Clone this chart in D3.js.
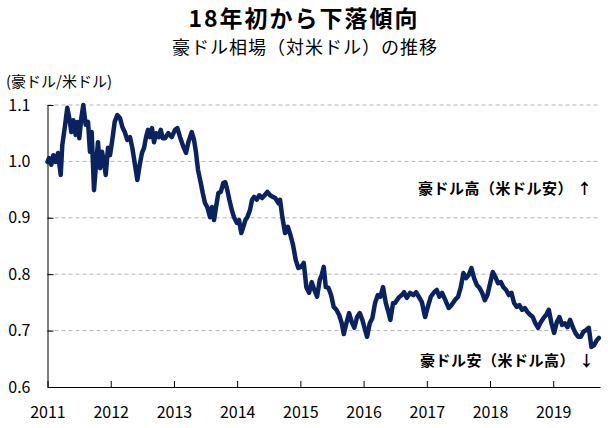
<!DOCTYPE html>
<html><head><meta charset="utf-8">
<script src="https://cdn.jsdelivr.net/npm/d3@7"></script>
<style>
html,body{margin:0;padding:0;background:#fff;}
text{font-family:"Noto Sans CJK JP","Noto Sans",sans-serif;fill:#000;}
</style></head>
<body><svg id="c" width="608" height="428"></svg>
<script>
const title = "18年初から下落傾向";
const subtitle = "豪ドル相場（対米ドル）の推移";
const yAxisLabel = "(豪ドル/米ドル)";
const noteUp = "豪ドル高（米ドル安）";
const noteDown = "豪ドル安（米ドル高）";
const yTicks = [0.6, 0.7, 0.8, 0.9, 1.0, 1.1];
const xTicks = [2011, 2012, 2013, 2014, 2015, 2016, 2017, 2018, 2019];
const xDomain = [2011, 2019.74];
// time in decimal years
const years = [
2011.000,2011.024,2011.060,2011.092,2011.130,2011.166,2011.209,2011.234,2011.272,2011.313,
2011.345,2011.377,2011.408,2011.446,2011.472,2011.503,2011.535,2011.566,2011.604,2011.641,
2011.672,2011.699,2011.736,2011.767,2011.799,2011.831,2011.862,2011.894,2011.921,2011.957,
2011.989,2012.025,2012.063,2012.104,2012.147,2012.184,2012.222,2012.263,2012.305,2012.342,
2012.380,2012.421,2012.459,2012.495,2012.527,2012.559,2012.590,2012.622,2012.653,2012.685,
2012.717,2012.759,2012.791,2012.823,2012.859,2012.911,2012.965,2013.017,2013.054,2013.097,
2013.149,2013.191,2013.228,2013.282,2013.318,2013.350,2013.381,2013.424,2013.456,2013.492,
2013.528,2013.571,2013.603,2013.634,2013.666,2013.703,2013.741,2013.782,2013.813,2013.845,
2013.877,2013.915,2013.951,2013.994,2014.030,2014.066,2014.098,2014.130,2014.161,2014.204,
2014.236,2014.267,2014.310,2014.351,2014.394,2014.437,2014.478,2014.521,2014.563,2014.604,
2014.652,2014.679,2014.715,2014.758,2014.801,2014.842,2014.884,2014.927,2014.968,2015.011,
2015.054,2015.095,2015.138,2015.180,2015.222,2015.264,2015.307,2015.339,2015.370,2015.402,
2015.443,2015.486,2015.528,2015.570,2015.612,2015.655,2015.687,2015.728,2015.771,2015.813,
2015.854,2015.897,2015.940,2015.981,2016.024,2016.055,2016.098,2016.139,2016.182,2016.225,
2016.266,2016.308,2016.351,2016.392,2016.424,2016.467,2016.498,2016.551,2016.604,2016.641,
2016.684,2016.736,2016.788,2016.831,2016.873,2016.921,2016.973,2017.016,2017.063,2017.116,
2017.158,2017.199,2017.242,2017.294,2017.348,2017.389,2017.443,2017.495,2017.538,2017.579,
2017.622,2017.665,2017.706,2017.748,2017.791,2017.832,2017.875,2017.918,2017.959,2018.002,
2018.044,2018.085,2018.128,2018.171,2018.212,2018.255,2018.297,2018.339,2018.381,2018.424,
2018.465,2018.508,2018.551,2018.592,2018.634,2018.677,2018.718,2018.761,2018.804,2018.845,
2018.888,2018.930,2018.972,2019.014,2019.057,2019.098,2019.141,2019.184,2019.225,2019.267,
2019.310,2019.351,2019.394,2019.437,2019.478,2019.521,2019.563,2019.604,2019.646,2019.690,
2019.722
];
// AUD/USD
const rates = [
0.999,1.006,0.994,1.011,0.999,1.015,0.976,1.029,1.059,1.095,
1.077,1.052,1.073,1.047,1.070,1.041,1.077,1.100,1.065,1.070,
1.017,1.052,0.949,0.994,1.034,0.988,1.017,0.999,0.976,1.024,
1.011,1.038,1.070,1.082,1.077,1.061,1.052,1.038,1.043,1.024,
0.997,0.967,0.994,1.015,1.024,1.043,1.056,1.043,1.059,1.034,
1.050,1.043,1.056,1.041,1.041,1.050,1.043,1.056,1.059,1.043,
1.026,1.015,1.034,1.052,1.038,1.015,0.985,0.962,0.944,0.926,
0.919,0.901,0.919,0.896,0.919,0.944,0.946,0.962,0.963,0.949,
0.932,0.914,0.901,0.891,0.896,0.873,0.884,0.896,0.901,0.914,
0.932,0.937,0.932,0.940,0.935,0.940,0.946,0.940,0.937,0.935,
0.926,0.932,0.901,0.873,0.884,0.870,0.852,0.825,0.811,0.813,
0.820,0.777,0.767,0.786,0.772,0.760,0.790,0.799,0.813,0.777,
0.776,0.763,0.742,0.737,0.728,0.713,0.694,0.713,0.731,0.715,
0.705,0.724,0.731,0.719,0.701,0.689,0.713,0.722,0.749,0.763,
0.760,0.777,0.749,0.733,0.719,0.749,0.749,0.758,0.763,0.768,
0.758,0.767,0.763,0.768,0.760,0.751,0.724,0.742,0.760,0.768,
0.772,0.760,0.767,0.754,0.740,0.745,0.754,0.760,0.777,0.802,
0.793,0.799,0.811,0.793,0.781,0.776,0.767,0.754,0.763,0.784,
0.804,0.795,0.784,0.786,0.777,0.772,0.763,0.767,0.749,0.742,
0.745,0.737,0.740,0.733,0.728,0.724,0.713,0.705,0.715,0.722,
0.728,0.737,0.713,0.696,0.715,0.724,0.710,0.713,0.706,0.719,
0.706,0.696,0.689,0.689,0.698,0.701,0.705,0.671,0.674,0.683,
0.687
];

const svg = d3.select("#c");
const m = {left:47.5, right:600, top:105, bottom:387};
const x = d3.scaleLinear().domain(xDomain).range([m.left, m.right]);
const y = d3.scaleLinear().domain([0.6, 1.1]).range([m.bottom, m.top]);

// title
svg.append("text").attr("x", 304).attr("y", 27).attr("text-anchor","middle")
  .attr("font-size", 23).attr("font-weight","bold").attr("letter-spacing", 2)
  .text(title);
svg.append("text").attr("x", 305).attr("y", 54).attr("text-anchor","middle")
  .attr("font-size", 18).attr("letter-spacing", 1)
  .text(subtitle);
svg.append("text").attr("x", 6).attr("y", 87).attr("font-size", 15).text(yAxisLabel);

// gridlines
svg.append("g").selectAll("line").data(yTicks.filter(d => d > 0.6)).join("line")
  .attr("x1", m.left).attr("x2", m.right)
  .attr("y1", d => y(d)).attr("y2", d => y(d))
  .attr("stroke", "#b4b4b4").attr("stroke-width", 1).attr("stroke-dasharray", "4,3");

// y axis
const yAx = svg.append("g").attr("transform", `translate(${m.left},0)`)
  .call(d3.axisLeft(y).tickValues(yTicks).tickFormat(d3.format(".1f")).tickSizeInner(-6).tickSizeOuter(0).tickPadding(17));
yAx.select(".domain").attr("stroke","#000");
yAx.selectAll(".tick line").attr("stroke","#000");
yAx.selectAll("text").attr("font-size", 16).attr("fill","#000")
  .style("font-family", '"Noto Sans CJK JP", sans-serif');

// x axis
const xAx = svg.append("g").attr("transform", `translate(0,${m.bottom})`)
  .call(d3.axisBottom(x).tickValues(xTicks).tickFormat(d3.format("d")).tickSizeInner(-6).tickSizeOuter(0).tickPadding(20));
xAx.select(".domain").attr("stroke","#000");
xAx.selectAll(".tick line").attr("stroke","#000");
xAx.selectAll("text").attr("font-size", 16).attr("fill","#000")
  .style("font-family", '"Noto Sans CJK JP", sans-serif');

// line
const data = years.map((t, i) => ({t, v: rates[i]}));
svg.append("path").datum(data)
  .attr("fill","none").attr("stroke","#0a2260").attr("stroke-width", 4.5)
  .attr("stroke-linejoin","round").attr("stroke-linecap","round")
  .attr("d", d3.line().x(d => x(d.t)).y(d => y(d.v)));

// notes
svg.append("text").attr("x", 418).attr("y", 194).attr("font-size", 15)
  .attr("font-weight","bold").attr("letter-spacing", 0.5).text(noteUp + " ↑");
svg.append("text").attr("x", 420).attr("y", 366).attr("font-size", 15)
  .attr("font-weight","bold").attr("letter-spacing", 0.5).text(noteDown + " ↓");
</script></body></html>
